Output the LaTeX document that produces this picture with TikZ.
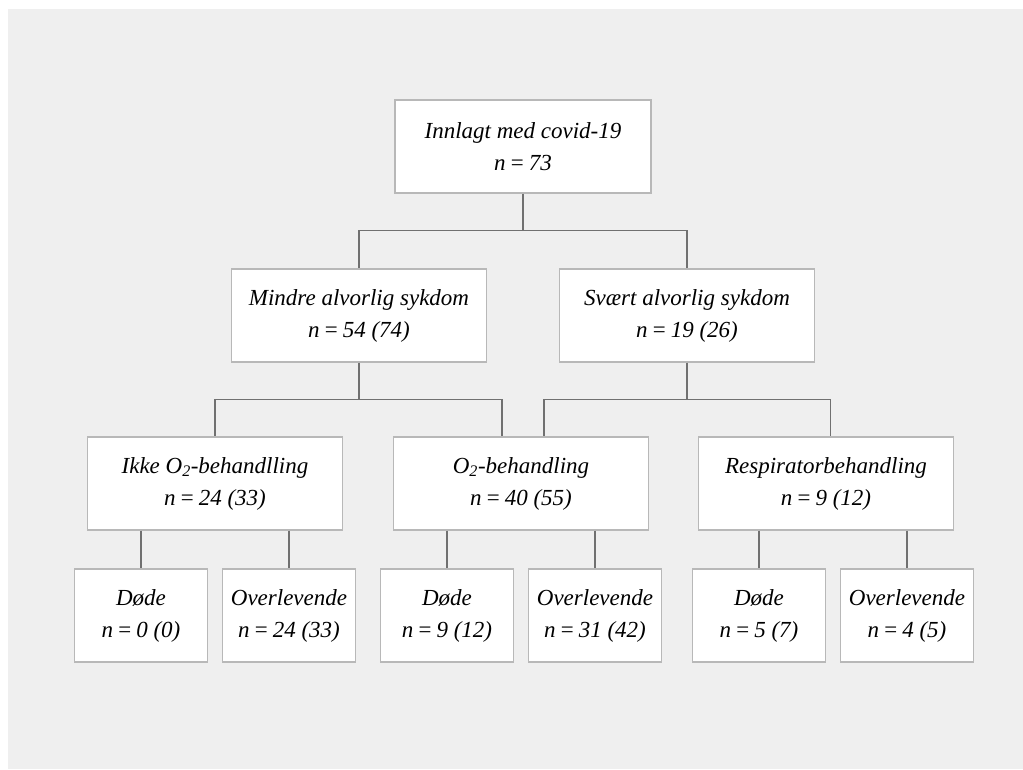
\documentclass[tikz,border=0pt]{standalone}
\usepackage{fontspec}
\setmainfont{Liberation Serif}
\begin{document}
\begin{tikzpicture}[x=1pt,y=-1pt,
  box/.style={draw=boxgray,line width=1.4pt,fill=white,inner sep=0pt,align=center,
    font=\fontsize{23}{32}\selectfont\itshape},
  big/.style={box,minimum width=255pt,minimum height=93pt},
  leaf/.style={box,minimum width=133pt,minimum height=93pt},
  conn/.style={draw=linegray,line width=1.3pt}]
\definecolor{boxgray}{HTML}{B8B8B8}
\definecolor{linegray}{HTML}{707070}
\definecolor{bggray}{HTML}{EFEFEF}
\useasboundingbox (0,0) rectangle (1023,769);
\fill[white] (0,0) rectangle (1023,769);
\fill[bggray] (8,9) rectangle (1023,769);
% nodes
\node[big,minimum width=256pt] (top) at (523,146.5) {Innlagt med covid-19\\n\,=\,73};
\node[big] (mindre) at (359,315.5) {Mindre alvorlig sykdom\\n\,=\,54 (74)};
\node[big] (svaert) at (687,315.5) {Svært alvorlig sykdom\\n\,=\,19 (26)};
\node[big] (ikke) at (215,483.5) {Ikke O\textsubscript{2}-behandlling\\n\,=\,24 (33)};
\node[big] (otwo) at (521,483.5) {O\textsubscript{2}-behandling\\n\,=\,40 (55)};
\node[big] (resp) at (826,483.5) {Respiratorbehandling\\n\,=\,9 (12)};
\node[leaf] (d1) at (141,615.5) {Døde\\n\,=\,0 (0)};
\node[leaf] (s1) at (289,615.5) {Overlevende\\n\,=\,24 (33)};
\node[leaf] (d2) at (447,615.5) {Døde\\n\,=\,9 (12)};
\node[leaf] (s2) at (595,615.5) {Overlevende\\n\,=\,31 (42)};
\node[leaf] (d3) at (759,615.5) {Døde\\n\,=\,5 (7)};
\node[leaf] (s3) at (907,615.5) {Overlevende\\n\,=\,4 (5)};
% connectors
\coordinate (j0) at ([yshift=-37pt]top.south);
\draw[conn] (top.south) -- (j0);
\draw[conn] (j0) -| (mindre.north);
\draw[conn] (j0) -| (svaert.north);
\coordinate (j1) at ([yshift=-37pt]mindre.south);
\draw[conn] (mindre.south) -- (j1);
\draw[conn] (j1) -| (ikke.north);
\draw[conn] (j1) -| ([xshift=-19pt]otwo.north);
\coordinate (j2) at ([yshift=-37pt]svaert.south);
\draw[conn] (svaert.south) -- (j2);
\draw[conn] (j2) -| ([xshift=23pt]otwo.north);
\draw[conn] (j2) -| ([xshift=4.5pt]resp.north);
\draw[conn] (ikke.south -| d1.north) -- (d1.north);
\draw[conn] (ikke.south -| s1.north) -- (s1.north);
\draw[conn] (otwo.south -| d2.north) -- (d2.north);
\draw[conn] (otwo.south -| s2.north) -- (s2.north);
\draw[conn] (resp.south -| d3.north) -- (d3.north);
\draw[conn] (resp.south -| s3.north) -- (s3.north);
\end{tikzpicture}
\end{document}
